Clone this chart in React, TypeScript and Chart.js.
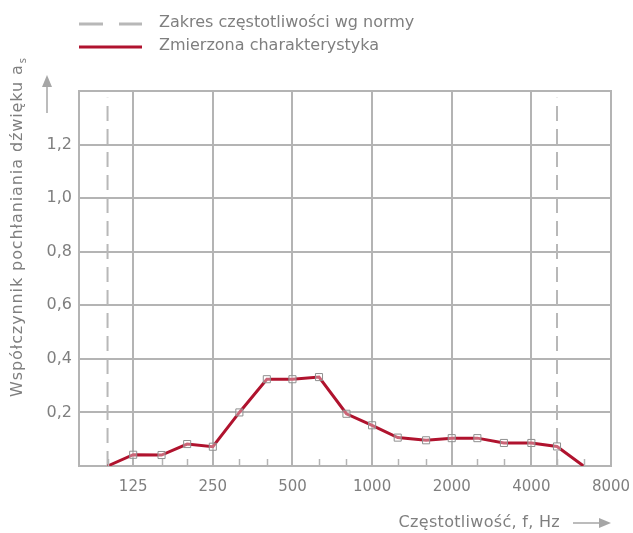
import React, { useEffect, useRef } from 'react';
import { Chart, registerables } from 'chart.js';

Chart.register(...registerables);

// ---- data ----
const frequencies = [100, 125, 160, 200, 250, 315, 400, 500, 630, 800, 1000, 1250, 1600, 2000, 2500, 3150, 4000, 5000, 6300];
const absorption = [0, 0.042, 0.041, 0.082, 0.072, 0.2, 0.324, 0.324, 0.332, 0.195, 0.152, 0.106, 0.096, 0.104, 0.104, 0.086, 0.086, 0.073, 0];
const rangeBounds = [100, 5000];
const rangeTop = 1.375;
const xTickLabels = [125, 250, 500, 1000, 2000, 4000, 8000];
const yTickValues = [0.2, 0.4, 0.6, 0.8, 1.0, 1.2];
const legendLabels = ['Zakres częstotliwości wg normy', 'Zmierzona charakterystyka'];
const yTitle = 'Współczynnik pochłaniania dźwięku a';
const yTitleSub = 's';
const xTitle = 'Częstotliwość, f, Hz';

// ---- styles ----
const FONT = 'DejaVu Sans';
const FONT_SIZE = 16;
const TEXT = '#7f7f7f';
const GRID = '#b4b4b4';
const RED = '#b0132e';
const DASH = '#b8b8b8';
const ARROW = '#a6a6a6';

const decorPlugin = {
  id: 'decor',
  afterDraw(chart: any) {
    const { ctx, chartArea } = chart;
    const xs = chart.scales.x;
    ctx.save();
    // plot frame (top & right)
    ctx.strokeStyle = GRID;
    ctx.lineWidth = 2;
    ctx.beginPath();
    ctx.moveTo(chartArea.left, chartArea.top);
    ctx.lineTo(chartArea.right, chartArea.top);
    ctx.lineTo(chartArea.right, chartArea.bottom);
    ctx.stroke();
    // minor ticks at third-octave bands
    ctx.lineWidth = 1.5;
    frequencies.forEach((f) => {
      if (xTickLabels.indexOf(f) >= 0) return;
      const px = Math.round(xs.getPixelForValue(f)) + 0.5;
      ctx.beginPath();
      ctx.moveTo(px, chartArea.bottom);
      ctx.lineTo(px, chartArea.bottom - 7);
      ctx.stroke();
    });

    // legend
    ctx.lineWidth = 3;
    ctx.strokeStyle = DASH;
    ctx.setLineDash([24, 16]);
    ctx.beginPath();
    ctx.moveTo(79, 24);
    ctx.lineTo(142, 24);
    ctx.stroke();
    ctx.setLineDash([]);
    ctx.strokeStyle = RED;
    ctx.beginPath();
    ctx.moveTo(79, 47);
    ctx.lineTo(142, 47);
    ctx.stroke();
    ctx.fillStyle = TEXT;
    ctx.font = `${FONT_SIZE}px "${FONT}"`;
    ctx.textAlign = 'left';
    ctx.textBaseline = 'middle';
    ctx.fillText(legendLabels[0], 159, 23);
    ctx.fillText(legendLabels[1], 159, 46);

    // x title + arrow
    ctx.font = `${FONT_SIZE}px "${FONT}"`;
    ctx.textAlign = 'right';
    (ctx as any).letterSpacing = '0.3px';
    ctx.fillText(xTitle, 560, 523);
    (ctx as any).letterSpacing = '0px';
    ctx.strokeStyle = ARROW;
    ctx.fillStyle = ARROW;
    ctx.lineWidth = 1.5;
    ctx.beginPath();
    ctx.moveTo(573, 523);
    ctx.lineTo(601, 523);
    ctx.stroke();
    ctx.beginPath();
    ctx.moveTo(611, 523);
    ctx.lineTo(599, 518);
    ctx.lineTo(599, 528);
    ctx.closePath();
    ctx.fill();

    // y arrow
    ctx.beginPath();
    ctx.moveTo(47, 113);
    ctx.lineTo(47, 85);
    ctx.stroke();
    ctx.beginPath();
    ctx.moveTo(47, 75);
    ctx.lineTo(42, 87);
    ctx.lineTo(52, 87);
    ctx.closePath();
    ctx.fill();

    // y title (rotated)
    ctx.translate(18, 397);
    ctx.rotate(-Math.PI / 2);
    ctx.fillStyle = TEXT;
    ctx.textAlign = 'left';
    ctx.font = `${FONT_SIZE}px "${FONT}"`;
    (ctx as any).letterSpacing = '0.9px';
    ctx.fillText(yTitle, 0, 0);
    const w = ctx.measureText(yTitle).width;
    (ctx as any).letterSpacing = '0px';
    ctx.font = `${FONT_SIZE - 6}px "${FONT}"`;
    ctx.fillText(yTitleSub, w + 1, 5);
    ctx.restore();
  },
};

export default function App() {
  const ref = useRef<HTMLCanvasElement>(null);
  useEffect(() => {
    document.body.style.margin = '0';
    const n = frequencies.length;
    const chart = new Chart(ref.current as HTMLCanvasElement, {
      type: 'line',
      data: {
        datasets: [
          {
            label: legendLabels[1],
            data: frequencies.map((f, i) => ({ x: f, y: absorption[i] })),
            borderColor: RED,
            borderWidth: 3,
            tension: 0,
            pointStyle: 'rect',
            pointRadius: (c: any) => (c.dataIndex === 0 || c.dataIndex === n - 1 ? 0 : 5),
            pointBorderColor: '#8f8f8f',
            pointBorderWidth: 1,
            pointBackgroundColor: 'rgba(255,255,255,0.35)',
          },
          ...rangeBounds.map((b) => ({
            label: legendLabels[0],
            data: [
              { x: b, y: 0 },
              { x: b, y: rangeTop },
            ],
            borderColor: DASH,
            borderWidth: 2,
            borderDash: [15, 8],
            pointRadius: 0,
          })),
        ],
      } as any,
      options: {
        animation: false,
        responsive: false,
        layout: { padding: { left: 0, right: 22, top: 91, bottom: 0 } },
        plugins: { legend: { display: false }, tooltip: { enabled: false } },
        scales: {
          x: {
            type: 'logarithmic',
            min: 78,
            max: 8000,
            afterBuildTicks: (s: any) => {
              s.ticks = xTickLabels.map((v) => ({ value: v }));
            },
            afterFit: (s: any) => {
              s.height = 67;
              s.paddingLeft = 0;
              s.paddingRight = 0;
            },
            ticks: {
              callback: (v: any) => String(v),
              color: TEXT,
              font: { family: FONT, size: FONT_SIZE - 1 },
              padding: 12,
              autoSkip: false,
              maxRotation: 0,
            },
            grid: { color: GRID, lineWidth: 2, drawTicks: false },
            border: { color: GRID, width: 2 },
          },
          y: {
            min: 0,
            max: 1.4,
            afterBuildTicks: (s: any) => {
              s.ticks = [0, ...yTickValues, 1.4].map((v) => ({ value: v }));
            },
            afterFit: (s: any) => {
              s.width = 79;
              s.paddingTop = 0;
              s.paddingBottom = 0;
            },
            ticks: {
              callback: (v: any) => (yTickValues.some((t) => Math.abs(t - v) < 1e-6) ? Number(v).toFixed(1).replace('.', ',') : ''),
              color: TEXT,
              font: { family: FONT, size: FONT_SIZE },
              padding: 7,
            },
            grid: { color: GRID, lineWidth: 2, drawTicks: false },
            border: { color: GRID, width: 2 },
          },
        },
      } as any,
      plugins: [decorPlugin],
    });
    return () => chart.destroy();
  }, []);
  return <canvas ref={ref} width={633} height={533} style={{ display: 'block' }} />;
}
